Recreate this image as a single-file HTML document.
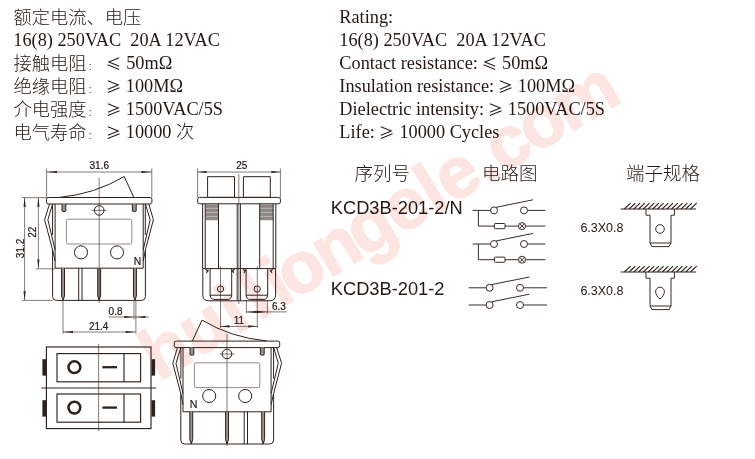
<!DOCTYPE html>
<html lang="zh"><head><meta charset="utf-8"><title>KCD3B-201-2</title>
<style>
html,body{margin:0;padding:0;background:#fff;}
svg{display:block;will-change:transform}
.m{fill:none;stroke:#2d211d;stroke-width:1.0;stroke-linejoin:round}
.pf{fill:#9b9390}
.m2{fill:none;stroke:#2d211d;stroke-width:1.15}
.w{fill:none;stroke:#6f6663;stroke-width:0.75}
.t{fill:none;stroke:#2d211d;stroke-width:0.6}
.c{fill:none;stroke:#2d211d;stroke-width:0.95}
.h{fill:none;stroke:#2d211d;stroke-width:1.1}
.ar{fill:#2d211d;stroke:none}
text{white-space:pre}
.d{font-family:"Liberation Sans",sans-serif;font-size:10px;fill:#231815;stroke:#231815;stroke-width:0.2}
.k{font-family:"Liberation Sans",sans-serif;font-size:18.25px;fill:#231815}
.s{font-family:"Liberation Sans",sans-serif;font-size:12.5px;fill:#231815}
.r{font-family:"Liberation Serif","Noto Sans CJK SC",serif;font-size:18.3px;fill:#231815}
.cj{font-family:"Liberation Sans","Noto Sans CJK SC",sans-serif;font-weight:300;font-size:18.5px;fill:#231815}
.cj2{font-family:"Liberation Sans","Noto Sans CJK SC",sans-serif;font-weight:300;font-size:18.3px;fill:#231815}
.sym{font-family:"Noto Sans CJK SC","DejaVu Sans",sans-serif;font-weight:400;font-size:15.6px;fill:#231815}
.wm{font-family:"Liberation Sans",sans-serif;font-weight:bold;font-size:71.9px;fill:#fde5e1;stroke:#fde5e1;stroke-width:1.6;stroke-linejoin:round}
</style></head>
<body>
<svg width="755" height="459" viewBox="0 0 755 459">
<rect width="755" height="459" fill="#fff"/>
<text class="wm" transform="translate(157.6,382.6) rotate(-31.2)" x="1.5 45.9 91.9 118.9 143.8 158.8 200.8 240.7 283.6 323.6 343.6 384.1 403.2 440.7 481.5" y="0">huiliongele.com</text>
<g><path class="m" d="M59.4,197.4 Q95,194 124.2,176.5 L133.8,197.4"/>
<rect class="m" x="46.5" y="197.5" width="105.4" height="6.5" rx="1.8"/>
<path class="m pf" d="M62.0,204 V211 Q63.9,212.4 65.8,211 V204"/>
<path class="m pf" d="M132.4,204 V211 Q134.3,212.4 136.2,211 V204"/>
<circle class="m" cx="99.2" cy="210.4" r="4.8"/>
<line class="t" x1="91.70" y1="210.40" x2="106.60" y2="210.40"/>
<path class="m" d="M55.1,203.8 V268.2 H143.2 V203.8"/>
<path class="m" d="M52.6,203.8 V235"/>
<path class="m" d="M145.3,203.8 V235"/>
<path class="m" d="M49.6,203.8 L44.6,219.7 L52.6,250 L55.1,261"/>
<path class="m" d="M52.6,203.8 L47.9,219.7 L55.1,250"/>
<path class="m" d="M148.7,203.8 L153.4,219.7 L145.4,250 L143.2,261"/>
<path class="m" d="M145.3,203.8 L150.2,219.7 L143.2,250"/>
<path class="m" d="M52.6,250 V296.5 Q52.6,300.4 56.5,300.4 H141.5 Q145.4,300.4 145.4,296.5 V250"/>
<rect class="w" x="66.4" y="219.2" width="65.4" height="24.8" rx="1.6"/>
<circle class="m" cx="81" cy="252.4" r="6.55"/>
<circle class="m" cx="117" cy="252.4" r="6.55"/>
<path class="m pf" d="M61.6,268.2 V296 L63.05,300.4 L64.5,296 V268.2"/>
<path class="m pf" d="M97.7,268.2 V296 L99.15,300.4 L100.6,296 V268.2"/>
<path class="m pf" d="M133.5,268.2 V296 L134.95,300.4 L136.4,296 V268.2"/>
<line class="m" x1="78.70" y1="268.20" x2="78.70" y2="300.40"/>
<line class="m" x1="82.00" y1="268.20" x2="82.00" y2="300.40"/></g>
<line class="t" x1="99.20" y1="177.50" x2="99.20" y2="303.00"/>
<line class="t" x1="227.00" y1="334.00" x2="227.00" y2="446.00"/>
<g transform="translate(326.2,143.6) scale(-1,1)"><path class="m" d="M59.4,197.4 Q95,194 124.2,176.5 L133.8,197.4"/>
<rect class="m" x="46.5" y="197.5" width="105.4" height="6.5" rx="1.8"/>
<path class="m pf" d="M62.0,204 V211 Q63.9,212.4 65.8,211 V204"/>
<path class="m pf" d="M132.4,204 V211 Q134.3,212.4 136.2,211 V204"/>
<circle class="m" cx="99.2" cy="210.4" r="4.8"/>
<line class="t" x1="91.70" y1="210.40" x2="106.60" y2="210.40"/>
<path class="m" d="M55.1,203.8 V268.2 H143.2 V203.8"/>
<path class="m" d="M52.6,203.8 V235"/>
<path class="m" d="M145.3,203.8 V235"/>
<path class="m" d="M49.6,203.8 L44.6,219.7 L52.6,250 L55.1,261"/>
<path class="m" d="M52.6,203.8 L47.9,219.7 L55.1,250"/>
<path class="m" d="M148.7,203.8 L153.4,219.7 L145.4,250 L143.2,261"/>
<path class="m" d="M145.3,203.8 L150.2,219.7 L143.2,250"/>
<path class="m" d="M52.6,250 V296.5 Q52.6,300.4 56.5,300.4 H141.5 Q145.4,300.4 145.4,296.5 V250"/>
<rect class="w" x="66.4" y="219.2" width="65.4" height="24.8" rx="1.6"/>
<circle class="m" cx="81" cy="252.4" r="6.55"/>
<circle class="m" cx="117" cy="252.4" r="6.55"/>
<path class="m pf" d="M61.6,268.2 V296 L63.05,300.4 L64.5,296 V268.2"/>
<path class="m pf" d="M97.7,268.2 V296 L99.15,300.4 L100.6,296 V268.2"/>
<path class="m pf" d="M133.5,268.2 V296 L134.95,300.4 L136.4,296 V268.2"/>
<line class="m" x1="78.70" y1="268.20" x2="78.70" y2="300.40"/>
<line class="m" x1="82.00" y1="268.20" x2="82.00" y2="300.40"/></g>
<text class="d" x="133.7" y="264.6" style="font-size:10.3px">N</text>
<text class="d" transform="translate(189.8,408.3) scale(0.9,1)" style="font-size:11.8px">N</text>
<line class="t" x1="46.60" y1="168.50" x2="46.60" y2="197.50"/>
<line class="t" x1="151.80" y1="168.50" x2="151.80" y2="197.50"/>
<line class="t" x1="46.60" y1="172.00" x2="151.80" y2="172.00"/>
<polygon class="ar" points="46.60,172.00 57.00,170.90 57.00,173.10"/>
<polygon class="ar" points="151.80,172.00 141.40,173.10 141.40,170.90"/>
<text class="d" x="99.3" y="168.6" text-anchor="middle">31.6</text>
<line class="t" x1="22.00" y1="197.60" x2="46.60" y2="197.60"/>
<line class="t" x1="36.00" y1="268.80" x2="55.00" y2="268.80"/>
<line class="t" x1="22.00" y1="300.40" x2="52.60" y2="300.40"/>
<line class="t" x1="38.40" y1="198.00" x2="38.40" y2="268.50"/>
<polygon class="ar" points="38.40,197.80 39.50,206.80 37.30,206.80"/>
<polygon class="ar" points="38.40,268.60 37.30,259.60 39.50,259.60"/>
<line class="t" x1="24.60" y1="198.00" x2="24.60" y2="300.00"/>
<polygon class="ar" points="24.60,197.80 25.70,206.80 23.50,206.80"/>
<polygon class="ar" points="24.60,300.20 23.50,291.20 25.70,291.20"/>
<text class="d" transform="translate(35.8,232.2) rotate(-90)" text-anchor="middle">22</text>
<text class="d" transform="translate(23.6,248.5) rotate(-90)" text-anchor="middle">31.2</text>
<line class="t" x1="134.00" y1="301.00" x2="134.00" y2="319.50"/>
<line class="t" x1="135.90" y1="301.00" x2="135.90" y2="333.60"/>
<line class="t" x1="108.60" y1="317.00" x2="149.00" y2="317.00"/>
<polygon class="ar" points="134.00,317.00 124.40,318.10 124.40,315.90"/>
<polygon class="ar" points="135.90,317.00 145.50,315.90 145.50,318.10"/>
<text class="d" x="108.6" y="315.3">0.8</text>
<line class="t" x1="63.00" y1="301.00" x2="63.00" y2="333.60"/>
<line class="t" x1="63.00" y1="332.00" x2="135.60" y2="332.00"/>
<polygon class="ar" points="63.00,332.00 73.00,330.90 73.00,333.10"/>
<polygon class="ar" points="135.60,332.00 125.60,333.10 125.60,330.90"/>
<text class="d" x="98.7" y="329.5" text-anchor="middle">21.4</text>
<line class="t" x1="197.60" y1="168.50" x2="197.60" y2="197.50"/>
<line class="t" x1="280.40" y1="168.50" x2="280.40" y2="197.50"/>
<line class="t" x1="197.60" y1="172.00" x2="280.40" y2="172.00"/>
<polygon class="ar" points="197.60,172.00 206.60,170.90 206.60,173.10"/>
<polygon class="ar" points="280.40,172.00 271.40,173.10 271.40,170.90"/>
<text class="d" x="241.7" y="168.8" text-anchor="middle">25</text>
<rect class="m" x="207.6" y="176.7" width="26.9" height="20.7"/>
<rect class="m" x="243.4" y="176.7" width="26.9" height="20.7"/>
<rect class="m" x="197.7" y="197.4" width="82.7" height="6.4" rx="1.8"/>
<rect x="205.4" y="204.2" width="13.1" height="16" fill="#8d8785"/>
<line x1="205.4" y1="208.3" x2="218.5" y2="208.3" stroke="#cfcbc9" stroke-width="0.7"/>
<line x1="205.4" y1="212.4" x2="218.5" y2="212.4" stroke="#cfcbc9" stroke-width="0.7"/>
<line x1="205.4" y1="216.4" x2="218.5" y2="216.4" stroke="#cfcbc9" stroke-width="0.7"/>
<rect x="259.7" y="204.2" width="13.3" height="16" fill="#8d8785"/>
<line x1="259.7" y1="208.3" x2="273.0" y2="208.3" stroke="#cfcbc9" stroke-width="0.7"/>
<line x1="259.7" y1="212.4" x2="273.0" y2="212.4" stroke="#cfcbc9" stroke-width="0.7"/>
<line x1="259.7" y1="216.4" x2="273.0" y2="216.4" stroke="#cfcbc9" stroke-width="0.7"/>
<line class="m" x1="202.60" y1="203.80" x2="202.60" y2="268.60"/>
<line class="m" x1="205.20" y1="203.80" x2="205.20" y2="268.60"/>
<line class="m" x1="218.50" y1="203.80" x2="218.50" y2="268.60"/>
<line class="m" x1="237.20" y1="203.80" x2="237.20" y2="268.60"/>
<line class="m" x1="240.40" y1="203.80" x2="240.40" y2="268.60"/>
<line class="m" x1="259.70" y1="203.80" x2="259.70" y2="268.60"/>
<line class="m" x1="273.20" y1="203.80" x2="273.20" y2="268.60"/>
<line class="m" x1="275.80" y1="203.80" x2="275.80" y2="268.60"/>
<line class="m" x1="202.60" y1="268.60" x2="275.80" y2="268.60"/>
<path class="m" d="M202.8,268.6 V294.8 Q202.8,300.8 208.8,300.8 H269.6 Q275.6,300.8 275.6,294.8 V268.6"/>
<line class="m" x1="237.20" y1="268.60" x2="237.20" y2="300.80"/>
<line class="m" x1="240.40" y1="268.60" x2="240.40" y2="300.80"/>
<path class="m" d="M210.1,268.6 V295.2 Q210.7,299.4 213.7,299.4 H228.1 Q231.1,299.4 231.7,295.2 V268.6"/>
<line class="m" x1="210.10" y1="295.20" x2="231.70" y2="295.20"/>
<circle class="m" cx="220.5" cy="289" r="3.1"/>
<path class="m" d="M246.1,268.6 V295.2 Q246.7,299.4 249.7,299.4 H264.1 Q267.1,299.4 267.7,295.2 V268.6"/>
<line class="m" x1="246.10" y1="295.20" x2="267.70" y2="295.20"/>
<circle class="m" cx="257.2" cy="289" r="3.1"/>
<path class="m" style="fill:#2d211d;stroke-width:0.6" d="M205.4,269.2 L208.7,270.6 L206.4,273.2 L207.0,271 Z" />
<path class="m" style="fill:#2d211d;stroke-width:0.6" d="M234.8,269.2 L231.5,270.6 L233.8,273.2 L233.2,271 Z" />
<path class="m" style="fill:#2d211d;stroke-width:0.6" d="M242.9,269.2 L246.2,270.6 L243.9,273.2 L244.5,271 Z" />
<path class="m" style="fill:#2d211d;stroke-width:0.6" d="M273.0,269.2 L269.7,270.6 L272.0,273.2 L271.4,271 Z" />
<line class="t" x1="238.80" y1="174.00" x2="238.80" y2="304.00"/>
<line class="t" x1="220.50" y1="266.00" x2="220.50" y2="328.00"/>
<line class="t" x1="257.30" y1="266.00" x2="257.30" y2="328.00"/>
<line class="t" x1="246.40" y1="300.00" x2="246.40" y2="313.60"/>
<line class="t" x1="267.40" y1="300.00" x2="267.40" y2="313.60"/>
<line class="t" x1="246.40" y1="311.90" x2="287.00" y2="311.90"/>
<polygon class="ar" points="246.40,311.90 256.90,310.80 256.90,313.00"/>
<polygon class="ar" points="267.40,311.90 256.90,313.00 256.90,310.80"/>
<text class="d" x="272" y="309.8">6.3</text>
<line class="t" x1="220.50" y1="326.40" x2="257.30" y2="326.40"/>
<polygon class="ar" points="220.50,326.40 229.50,325.30 229.50,327.50"/>
<polygon class="ar" points="257.30,326.40 248.30,327.50 248.30,325.30"/>
<text class="d" x="238.9" y="324.2" text-anchor="middle">11</text>
<rect class="m2" x="46.4" y="347" width="104.6" height="81.6"/>
<line class="m2" x1="41.40" y1="388.00" x2="156.00" y2="388.00"/>
<rect class="m2" x="57" y="353.6" width="83.6" height="28.2"/>
<line class="m2" x1="124.00" y1="353.60" x2="124.00" y2="381.80"/>
<circle cx="74.4" cy="367.2" r="5.9" fill="none" stroke="#2d211d" stroke-width="2.5"/>
<line x1="102.4" y1="367.2" x2="117" y2="367.2" stroke="#2d211d" stroke-width="2.3"/>
<rect class="m2" x="57" y="394.0" width="83.6" height="28.2"/>
<line class="m2" x1="124.00" y1="394.00" x2="124.00" y2="422.20"/>
<circle cx="74.4" cy="407.6" r="5.9" fill="none" stroke="#2d211d" stroke-width="2.5"/>
<line x1="102.4" y1="407.6" x2="117" y2="407.6" stroke="#2d211d" stroke-width="2.3"/>
<rect x="42.4" y="359.2" width="3.6" height="16.4" fill="#2d211d"/>
<rect x="151.5" y="359.2" width="3.6" height="16.4" fill="#2d211d"/>
<rect x="42.4" y="400.2" width="3.6" height="16.4" fill="#2d211d"/>
<rect x="151.5" y="400.2" width="3.6" height="16.4" fill="#2d211d"/>
<line class="t" x1="98.60" y1="344.00" x2="98.60" y2="431.00"/>
<text class="cj" x="354.4" y="179.8">序列号</text>
<text class="cj" x="482.0" y="179.8">电路图</text>
<text class="cj" x="626" y="179.8">端子规格</text>
<text class="k" x="330.8" y="214">KCD3B-201-2/N</text>
<text class="k" x="330.8" y="295.4">KCD3B-201-2</text>
<text class="s" x="580.4" y="232.2">6.3X0.8</text>
<text class="s" x="580.4" y="294.8">6.3X0.8</text>
<line class="c" x1="472.60" y1="210.40" x2="490.40" y2="210.40"/>
<circle class="c" cx="494" cy="210.4" r="3.5"/>
<circle class="c" cx="524" cy="210.4" r="3.5"/>
<line class="c" x1="527.60" y1="210.40" x2="545.40" y2="210.40"/>
<line class="c" x1="496.20" y1="207.30" x2="533.00" y2="199.80"/>
<path class="c" d="M478.4,210.4 V226.1 H494.4"/>
<rect class="c" x="494.4" y="223.5" width="10.6" height="5.2" rx="0.8"/>
<line class="c" x1="505.00" y1="226.10" x2="518.50" y2="226.10"/>
<circle class="c" cx="522" cy="226.1" r="3.5"/>
<line class="c" x1="519.60" y1="223.70" x2="524.40" y2="228.50"/>
<line class="c" x1="519.60" y1="228.50" x2="524.40" y2="223.70"/>
<line class="c" x1="525.60" y1="226.10" x2="545.40" y2="226.10"/>
<line class="c" x1="472.60" y1="244.00" x2="490.40" y2="244.00"/>
<circle class="c" cx="494" cy="244.0" r="3.5"/>
<circle class="c" cx="524" cy="244.0" r="3.5"/>
<line class="c" x1="527.60" y1="244.00" x2="545.40" y2="244.00"/>
<line class="c" x1="496.20" y1="240.90" x2="533.00" y2="233.40"/>
<path class="c" d="M478.4,244.0 V259.7 H494.4"/>
<rect class="c" x="494.4" y="257.1" width="10.6" height="5.2" rx="0.8"/>
<line class="c" x1="505.00" y1="259.70" x2="518.50" y2="259.70"/>
<circle class="c" cx="522" cy="259.7" r="3.5"/>
<line class="c" x1="519.60" y1="257.30" x2="524.40" y2="262.10"/>
<line class="c" x1="519.60" y1="262.10" x2="524.40" y2="257.30"/>
<line class="c" x1="525.60" y1="259.70" x2="545.40" y2="259.70"/>
<line class="c" x1="468.60" y1="287.80" x2="486.00" y2="287.80"/>
<circle class="c" cx="489.6" cy="287.8" r="3.5"/>
<circle class="c" cx="520" cy="287.8" r="3.5"/>
<line class="c" x1="523.60" y1="287.80" x2="547.00" y2="287.80"/>
<line class="c" x1="491.60" y1="284.60" x2="529.40" y2="277.00"/>
<line class="c" x1="468.60" y1="305.00" x2="486.00" y2="305.00"/>
<circle class="c" cx="489.6" cy="305.0" r="3.5"/>
<circle class="c" cx="520" cy="305.0" r="3.5"/>
<line class="c" x1="523.60" y1="305.00" x2="547.00" y2="305.00"/>
<line class="c" x1="491.60" y1="301.80" x2="529.40" y2="294.20"/>
<line class="h" x1="620.60" y1="209.00" x2="696.00" y2="209.00"/>
<line class="h" x1="624.40" y1="209.00" x2="630.60" y2="203.20"/>
<line class="h" x1="629.12" y1="209.00" x2="635.32" y2="203.20"/>
<line class="h" x1="633.84" y1="209.00" x2="640.04" y2="203.20"/>
<line class="h" x1="638.56" y1="209.00" x2="644.76" y2="203.20"/>
<line class="h" x1="643.28" y1="209.00" x2="649.48" y2="203.20"/>
<line class="h" x1="648.00" y1="209.00" x2="654.20" y2="203.20"/>
<line class="h" x1="652.72" y1="209.00" x2="658.92" y2="203.20"/>
<line class="h" x1="657.44" y1="209.00" x2="663.64" y2="203.20"/>
<line class="h" x1="662.16" y1="209.00" x2="668.36" y2="203.20"/>
<line class="h" x1="666.88" y1="209.00" x2="673.08" y2="203.20"/>
<line class="h" x1="671.60" y1="209.00" x2="677.80" y2="203.20"/>
<line class="h" x1="676.32" y1="209.00" x2="682.52" y2="203.20"/>
<line class="h" x1="681.04" y1="209.00" x2="687.24" y2="203.20"/>
<line class="h" x1="685.76" y1="209.00" x2="691.96" y2="203.20"/>
<line class="h" x1="690.48" y1="209.00" x2="696.68" y2="203.20"/>
<path class="c" d="M646,209.0 V215.2 H650 V243.0 L652,246.6 H669 L671,243.0 V215.2 H674.4 V209.0"/>
<line class="c" x1="650.00" y1="243.00" x2="671.00" y2="243.00"/>
<circle class="c" cx="660" cy="229.0" r="4.3"/>
<line class="h" x1="620.60" y1="272.00" x2="696.00" y2="272.00"/>
<line class="h" x1="624.40" y1="272.00" x2="630.60" y2="266.20"/>
<line class="h" x1="629.12" y1="272.00" x2="635.32" y2="266.20"/>
<line class="h" x1="633.84" y1="272.00" x2="640.04" y2="266.20"/>
<line class="h" x1="638.56" y1="272.00" x2="644.76" y2="266.20"/>
<line class="h" x1="643.28" y1="272.00" x2="649.48" y2="266.20"/>
<line class="h" x1="648.00" y1="272.00" x2="654.20" y2="266.20"/>
<line class="h" x1="652.72" y1="272.00" x2="658.92" y2="266.20"/>
<line class="h" x1="657.44" y1="272.00" x2="663.64" y2="266.20"/>
<line class="h" x1="662.16" y1="272.00" x2="668.36" y2="266.20"/>
<line class="h" x1="666.88" y1="272.00" x2="673.08" y2="266.20"/>
<line class="h" x1="671.60" y1="272.00" x2="677.80" y2="266.20"/>
<line class="h" x1="676.32" y1="272.00" x2="682.52" y2="266.20"/>
<line class="h" x1="681.04" y1="272.00" x2="687.24" y2="266.20"/>
<line class="h" x1="685.76" y1="272.00" x2="691.96" y2="266.20"/>
<line class="h" x1="690.48" y1="272.00" x2="696.68" y2="266.20"/>
<path class="c" d="M646,272.0 V278.2 H650 V306.0 L652,309.6 H669 L671,306.0 V278.2 H674.4 V272.0"/>
<line class="c" x1="650.00" y1="306.00" x2="671.00" y2="306.00"/>
<path class="c" d="M660,299.0 C657.5,297.1 655.6,294.2 655.6,291.6 A4.4,4.4 0 0 1 664.4,291.6 C664.4,294.2 662.5,297.1 660,299.0 Z"/>
<text class="cj2" x="13.4" y="24.4">额定电流、电压</text>
<text class="r" x="13.3" y="45.6">16(8) 250VAC  20A 12VAC</text>
<text class="cj2" x="13.4" y="70.4">接触电阻</text>
<text class="cj2" x="88.7" y="70.4" style="font-size:10px;font-weight:400">:</text>
<text class="sym" x="105.8" y="69.8">≤</text>
<text class="r" x="126.2" y="68.7">50mΩ</text>
<text class="cj2" x="13.4" y="93.4">绝缘电阻</text>
<text class="cj2" x="88.7" y="93.4" style="font-size:10px;font-weight:400">:</text>
<text class="sym" x="105.8" y="92.8">≥</text>
<text class="r" x="125.8" y="91.7">100MΩ</text>
<text class="cj2" x="13.4" y="116.4">介电强度</text>
<text class="cj2" x="88.7" y="116.4" style="font-size:10px;font-weight:400">:</text>
<text class="sym" x="105.8" y="115.8">≥</text>
<text class="r" x="125.8" y="114.7">1500VAC/5S</text>
<text class="cj2" x="13.4" y="139.4">电气寿命</text>
<text class="cj2" x="88.7" y="139.4" style="font-size:10px;font-weight:400">:</text>
<text class="sym" x="105.8" y="138.8">≥</text>
<text class="r" x="125.8" y="137.7">10000 <tspan class="cj2">次</tspan></text>
<text class="r" x="339.3" y="22.6">Rating:</text>
<text class="r" x="339.3" y="45.6">16(8) 250VAC  20A 12VAC</text>
<text class="r" x="339.3" y="68.7">Contact resistance:</text>
<text class="sym" x="481.8" y="69.8">≤</text>
<text class="r" x="502.0" y="68.7">50mΩ</text>
<text class="r" x="339.3" y="91.7">Insulation resistance:</text>
<text class="sym" x="497.8" y="92.8">≥</text>
<text class="r" x="517.8" y="91.7">100MΩ</text>
<text class="r" x="339.3" y="114.7">Dielectric intensity:</text>
<text class="sym" x="487.8" y="115.8">≥</text>
<text class="r" x="507.8" y="114.7">1500VAC/5S</text>
<text class="r" x="339.3" y="137.7">Life:</text>
<text class="sym" x="378.8" y="138.8">≥</text>
<text class="r" x="399.4" y="137.7">10000 Cycles</text>
</svg>
</body></html>
